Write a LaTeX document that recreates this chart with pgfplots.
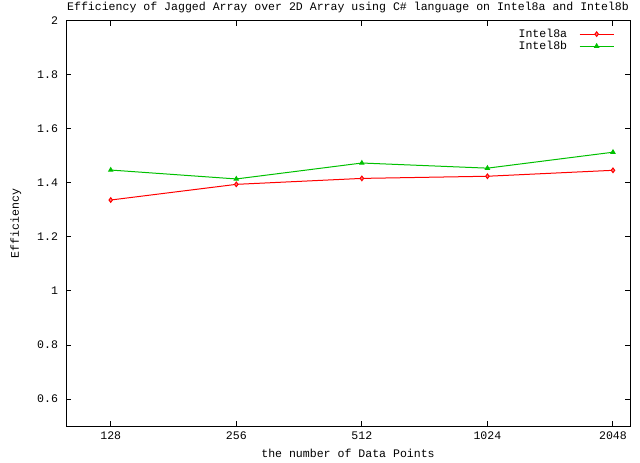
\documentclass[border=0pt]{standalone}
\usepackage{fontspec}
\setmainfont{Liberation Mono}
\setmonofont{Liberation Mono}
\usepackage{pgfplots}
\pgfplotsset{compat=1.18}
\definecolor{gpred}{RGB}{255,0,0}
\definecolor{gpgreen}{RGB}{0,192,0}
\newcommand{\gpfont}{\fontsize{11.6}{13}\selectfont}
\begin{document}
\gpfont
\begin{tikzpicture}[x=1bp,y=1bp]
\useasboundingbox (-66bp,-37bp) rectangle (574bp,426bp);
\begin{axis}[
  at={(0,0)}, anchor=south west,
  scale only axis, width=564bp, height=405bp,
  xmode=log, log basis x=2,
  xmin=100, xmax=2250, ymin=0.5, ymax=2,
  xtick={128,256,512,1024,2048},
  xticklabels={128,256,512,1024,2048},
  ytick={0.6,0.8,1,1.2,1.4,1.6,1.8,2},
  yticklabels={0.6,0.8,1,1.2,1.4,1.6,1.8,2},
  minor xtick={}, minor ytick={},
  tick align=inside, tick pos=both,
  major tick length=5bp,
  axis line style={line width=1bp},
  every tick/.style={black, line width=1bp},
  tick label style={font=\gpfont},
  xticklabel style={yshift=-2bp},
  yticklabel style={xshift=-4bp},
  /pgf/number format/assume math mode=true,
  title={Efficiency of Jagged Array over 2D Array using C\# language on Intel8a and Intel8b},
  title style={at={(0.5,1)}, anchor=south, yshift=0bp, inner sep=2bp, font=\gpfont},
  xlabel={the number of Data Points},
  ylabel={Efficiency},
  label style={font=\gpfont},
  xlabel style={yshift=-1bp},
  ylabel style={yshift=8bp},
  legend plot pos=right,
  legend cell align=right,
  legend style={draw=none, fill=none, at={(0.974,0.988)}, anchor=north east,
    font=\gpfont, row sep=-2bp, inner sep=1bp,
    /tikz/every odd column/.append style={column sep=10bp}},
  legend image code/.code={\draw[mark repeat=2,mark phase=2,#1] plot coordinates {(0bp,0bp)(17bp,0bp)(34bp,0bp)};},
  every axis plot/.append style={line width=1bp},
  clip=false,
]
\addplot[color=gpred, mark=diamond*, mark size=2.3bp, mark options={fill=gpred!50}] coordinates {
  (128,1.337) (256,1.395) (512,1.417) (1024,1.425) (2048,1.447)};
\addlegendentry{Intel8a}
\addplot[color=gpgreen, mark=triangle*, mark size=2.3bp] coordinates {
  (128,1.448) (256,1.415) (512,1.474) (1024,1.455) (2048,1.514)};
\addlegendentry{Intel8b}
\end{axis}
\end{tikzpicture}
\end{document}
